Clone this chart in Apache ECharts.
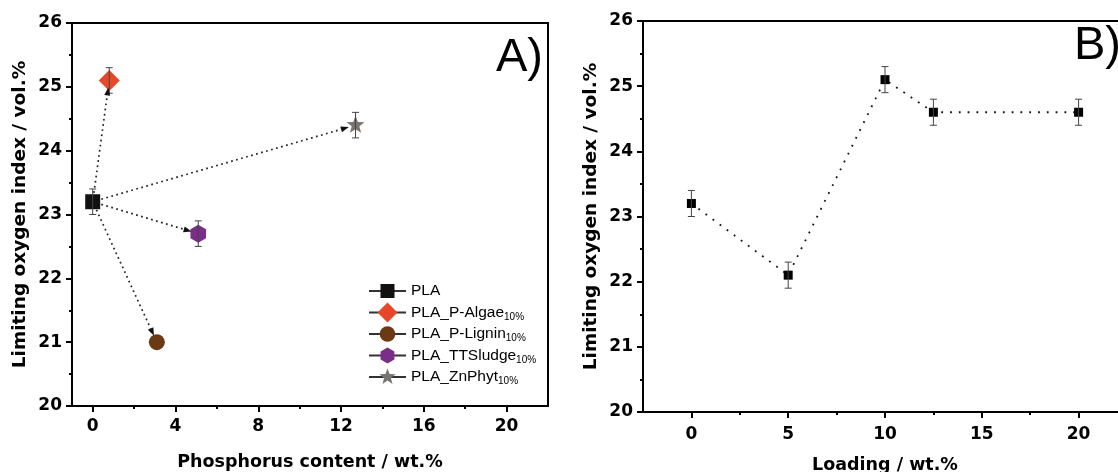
<!DOCTYPE html>
<html><head><meta charset="utf-8">
<script src="https://cdn.jsdelivr.net/npm/echarts@6/dist/echarts.min.js"></script>
<style>html,body{margin:0;padding:0;background:#fff}#c{width:1118px;height:472px}</style>
</head><body><div id="c"></div>
<script>
// ---- data: panel A ----
const samplesA = ['PLA', 'PLA_P-Algae', 'PLA_P-Lignin', 'PLA_TTSludge', 'PLA_ZnPhyt'];
const phosphorusA = [0, 0.8, 3.1, 5.1, 12.7];
const loiA = [23.2, 25.1, 21.0, 22.7, 24.4];
const errA = [0.2, 0.2, 0.0, 0.2, 0.2];
// ---- data: panel B ----
const loadingB = [0, 5, 10, 12.5, 20];
const loiB = [23.2, 22.1, 25.1, 24.6, 24.6];
const errB = [0.2, 0.2, 0.2, 0.2, 0.2];
// ---- ticks ----
const xTicksA = [0, 4, 8, 12, 16, 20];
const xMinorA = [2, 6, 10, 14, 18];
const xTicksB = [0, 5, 10, 15, 20];
const xMinorB = [2.5, 7.5, 12.5, 17.5];

// ---- styles ----
const colorsA = ['#111111', '#e8482a', '#6b3a14', '#7b2e88', '#7a7470'];
// symbol shapes drawn inside a fixed [-1,1] box so legend icons keep relative sizes
const BOX = 'M-1,-1M1,1';
function poly(pts) { return pts.map((p, k) => (k ? 'L' : 'M') + p[0].toFixed(3) + ',' + p[1].toFixed(3)).join('') + 'Z'; }
function starShape(s) {
  const pts = [];
  for (let k = 0; k < 10; k++) {
    const r = (k % 2 === 0 ? 1 : 0.42) * s;
    const a = (-90 + k * 36) * Math.PI / 180;
    pts.push([r * Math.cos(a), r * Math.sin(a)]);
  }
  return poly(pts);
}
function hexShape(s) {
  return poly([[0, -1], [0.866, -0.5], [0.866, 0.5], [0, 1], [-0.866, 0.5], [-0.866, -0.5]].map(p => [p[0] * s, p[1] * s]));
}
function circleShape(r) {
  return 'M' + r + ',0A' + r + ',' + r + ',0,1,1,' + (-r) + ',0A' + r + ',' + r + ',0,1,1,' + r + ',0Z';
}
const symbolsA = [
  'path://' + BOX + poly([[-0.7, -0.7], [0.7, -0.7], [0.7, 0.7], [-0.7, 0.7]]),
  'path://' + BOX + poly([[0, -1], [1, 0], [0, 1], [-1, 0]]),
  'path://' + BOX + circleShape(0.78),
  'path://' + BOX + hexShape(0.8),
  'path://' + BOX + starShape(0.85)
];
const sizesA = [21.4, 21, 20.5, 22.5, 22.4];

const FONT = '"Liberation Sans", Arial, sans-serif';
const AXFONT = '"DejaVu Sans", sans-serif';
const chart = echarts.init(document.getElementById('c'), null, {renderer: 'canvas'});

function errRender(params, api) {
  const x = api.value(0), lo = api.value(1), hi = api.value(2);
  if (hi - lo <= 0) return null;
  const a = api.coord([x, lo]), b = api.coord([x, hi]);
  const w = 3.5;
  const st = {stroke: '#444', lineWidth: 1};
  return {type: 'group', children: [
    {type: 'line', shape: {x1: a[0], y1: a[1], x2: b[0], y2: b[1]}, style: st},
    {type: 'line', shape: {x1: a[0] - w, y1: a[1], x2: a[0] + w, y2: a[1]}, style: st},
    {type: 'line', shape: {x1: b[0] - w, y1: b[1], x2: b[0] + w, y2: b[1]}, style: st}
  ]};
}
function arrowRender(params, api) {
  const p0 = api.coord([api.value(0), api.value(1)]);
  const p1 = api.coord([api.value(2), api.value(3)]);
  const dx = p1[0] - p0[0], dy = p1[1] - p0[1];
  const L = Math.hypot(dx, dy), ux = dx / L, uy = dy / L;
  const tip = [p1[0] - ux * 7, p1[1] - uy * 7];
  const head = 8, hw = 3;
  const base = [tip[0] - ux * head, tip[1] - uy * head];
  const start = [p0[0] + ux * 9, p0[1] + uy * 9];
  return {type: 'group', children: [
    {type: 'line', shape: {x1: start[0], y1: start[1], x2: base[0], y2: base[1]},
      style: {stroke: '#222', lineWidth: 1.7, lineDash: [1.7, 3.5]}},
    {type: 'polygon', shape: {points: [tip, [base[0] - uy * hw, base[1] + ux * hw], [base[0] + uy * hw, base[1] - ux * hw]]},
      style: {fill: '#111'}}
  ]};
}

const axisLineStyle = {show: true, onZero: false, lineStyle: {color: '#000', width: 2}};
const labelStyle = {color: '#000', fontFamily: AXFONT, fontWeight: 'bold', fontSize: 17};
const xNameStyle = {color: '#000', fontFamily: AXFONT, fontWeight: 'bold', fontSize: 17.5};
const yNameStyle = {color: '#000', fontFamily: AXFONT, fontWeight: 'bold', fontSize: 18.5};

const series = [];
samplesA.forEach((n, i) => {
  series.push({
    type: 'line', name: n, xAxisIndex: 0, yAxisIndex: 0,
    data: [[phosphorusA[i], loiA[i]]],
    symbol: symbolsA[i], symbolSize: sizesA[i], showSymbol: true,
    itemStyle: {color: colorsA[i]}, lineStyle: {color: '#333', width: 1},
    z: 3, silent: true, animation: false
  });
});
series.push({
  type: 'custom', xAxisIndex: 0, yAxisIndex: 0, z: 4, animation: false,
  renderItem: errRender, encode: {x: 0, y: [1, 2]},
  data: phosphorusA.map((x, i) => [x, loiA[i] - errA[i], loiA[i] + errA[i]])
});
series.push({
  type: 'custom', xAxisIndex: 0, yAxisIndex: 0, z: 5, animation: false,
  renderItem: arrowRender, encode: {x: [0, 2], y: [1, 3]},
  data: phosphorusA.slice(1).map((x, i) => [phosphorusA[0], loiA[0], x, loiA[i + 1]])
});
series.push({
  type: 'line', name: 'Loading', xAxisIndex: 2, yAxisIndex: 1,
  data: loadingB.map((x, i) => [x, loiB[i]]),
  symbol: 'rect', symbolSize: 9, showSymbol: true,
  itemStyle: {color: '#000'}, lineStyle: {color: '#111', width: 1.8, type: [1.8, 7]},
  z: 3, animation: false
});
series.push({
  type: 'custom', xAxisIndex: 2, yAxisIndex: 1, z: 4, animation: false,
  renderItem: errRender, encode: {x: 0, y: [1, 2]},
  data: loadingB.map((x, i) => [x, loiB[i] - errB[i], loiB[i] + errB[i]])
});

const option = {
  backgroundColor: '#fff',
  animation: false,
  grid: [
    {left: 72, right: 570, top: 23, bottom: 66, show: true, borderColor: '#000', borderWidth: 2, outerBoundsMode: 'none', containLabel: false},
    {left: 643, right: -9, top: 21, bottom: 60, show: true, borderColor: '#000', borderWidth: 2, outerBoundsMode: 'none', containLabel: false}
  ],
  xAxis: [
    {type: 'value', gridIndex: 0, min: -1, max: 22,
      name: 'Phosphorus content / wt.%', nameLocation: 'middle', nameGap: 47, nameTextStyle: xNameStyle,
      axisLine: axisLineStyle, splitLine: {show: false},
      axisTick: {show: true, inside: false, length: 6, customValues: xTicksA, lineStyle: {color: '#000', width: 2}},
      axisLabel: {customValues: xTicksA, margin: 12, ...labelStyle}},
    {type: 'value', gridIndex: 0, min: -1, max: 22, position: 'bottom',
      axisLine: {show: false, onZero: false}, splitLine: {show: false}, axisLabel: {show: false},
      axisTick: {show: true, length: 3, customValues: xMinorA, lineStyle: {color: '#000', width: 2}}},
    {type: 'value', gridIndex: 1, min: -2.5, max: 22.5,
      name: 'Loading / wt.%', nameLocation: 'middle', nameGap: 44, nameTextStyle: xNameStyle,
      axisLine: axisLineStyle, splitLine: {show: false},
      axisTick: {show: true, length: 6, customValues: xTicksB, lineStyle: {color: '#000', width: 2}},
      axisLabel: {customValues: xTicksB, margin: 14, ...labelStyle}},
    {type: 'value', gridIndex: 1, min: -2.5, max: 22.5, position: 'bottom',
      axisLine: {show: false, onZero: false}, splitLine: {show: false}, axisLabel: {show: false},
      axisTick: {show: true, length: 3, customValues: xMinorB, lineStyle: {color: '#000', width: 2}}}
  ],
  yAxis: [
    {type: 'value', gridIndex: 0, min: 20, max: 26, interval: 1,
      name: 'Limiting oxygen index / vol.%', nameLocation: 'middle', nameGap: 42, nameTextStyle: yNameStyle,
      axisLine: axisLineStyle, splitLine: {show: false},
      axisTick: {show: true, length: 6, lineStyle: {color: '#000', width: 2}},
      minorTick: {show: true, splitNumber: 2, length: 3, lineStyle: {color: '#000', width: 2}},
      axisLabel: {margin: 10, ...labelStyle}},
    {type: 'value', gridIndex: 1, min: 20, max: 26, interval: 1,
      name: 'Limiting oxygen index / vol.%', nameLocation: 'middle', nameGap: 42, nameTextStyle: yNameStyle,
      axisLine: axisLineStyle, splitLine: {show: false},
      axisTick: {show: true, length: 6, lineStyle: {color: '#000', width: 2}},
      minorTick: {show: true, splitNumber: 2, length: 3, lineStyle: {color: '#000', width: 2}},
      axisLabel: {margin: 10, ...labelStyle}}
  ],
  legend: {
    data: samplesA, orient: 'vertical', left: 368, top: 281,
    itemWidth: 37, itemHeight: 25, itemGap: 1.5, padding: 0,
    selectedMode: false,
    formatter: n => n === 'PLA' ? n : n + '{sub|10%}',
    textStyle: {color: '#000', fontFamily: FONT, fontSize: 15.5, lineHeight: 19,
      rich: {sub: {fontFamily: FONT, fontSize: 10, color: '#000', verticalAlign: 'bottom', lineHeight: 19, padding: [6, 0, 0, 0]}}}
  },
  graphic: [
    {type: 'text', left: 496, top: 35, style: {text: 'A)', font: '47px ' + FONT, fill: '#000'}},
    {type: 'text', left: 1074, top: 23, style: {text: 'B)', font: '47px ' + FONT, fill: '#000'}}
  ],
  series
};
chart.setOption(option);
</script></body></html>
